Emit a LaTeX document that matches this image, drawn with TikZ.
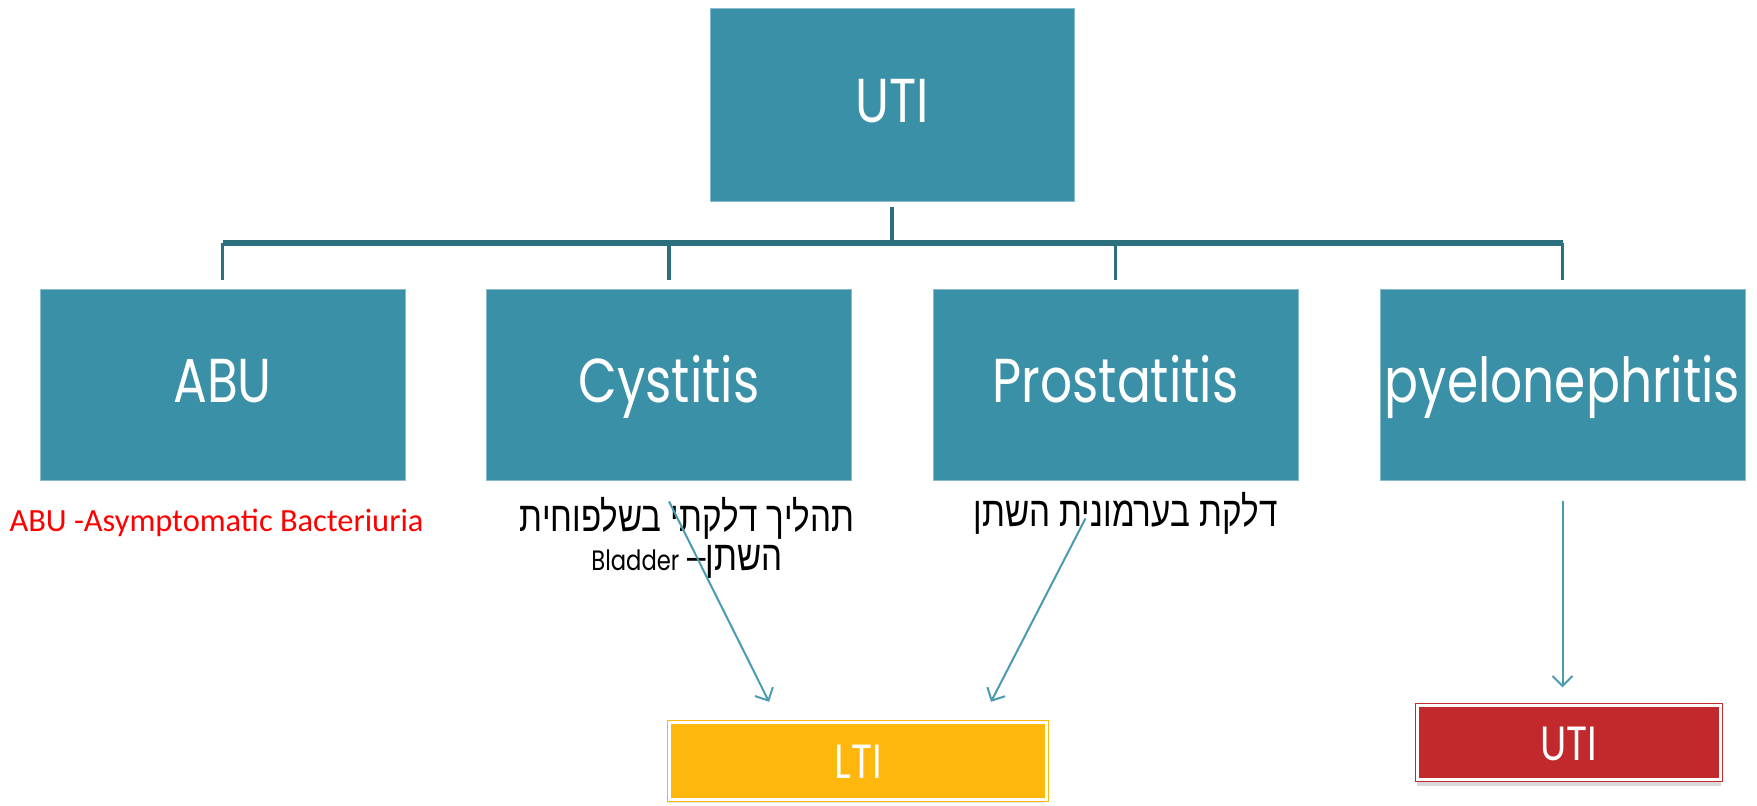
\documentclass[tikz,border=0pt]{standalone}
\usepackage{fontspec}
\setmainfont{Poppins}
\newfontfamily\boxfont[FakeStretch=0.81]{Poppins}
\newfontfamily\hebfont[Script=Hebrew,FakeStretch=0.79]{Liberation Sans}
\newfontfamily\notefont{Carlito}
\usetikzlibrary{arrows.meta,shadows}
\TeXXeTstate=1

\definecolor{boxteal}{RGB}{58,144,167}
\definecolor{linkteal}{RGB}{44,112,128}
\definecolor{arrowteal}{RGB}{74,155,176}
\definecolor{ltiorange}{RGB}{255,183,13}
\definecolor{utired}{RGB}{193,41,45}

\tikzset{
  link/.style={draw=linkteal,line width=1.7pt},
  busbar/.style={draw=linkteal,line width=3.2pt},
  pointer/.style={draw=arrowteal,line width=1pt,-{Straight Barb[length=5pt,width=10pt,line width=1pt]}},
  endbox/.style={rectangle,draw=#1,fill=#1,double=white,double distance=1.2pt,line width=0.6pt,
    text=white,font=\boxfont\fontsize{24}{24}\selectfont,inner sep=0pt,
    text height=17.6pt,text depth=0pt},
  hebnote/.style={text=black,font=\hebfont\fontsize{21}{19.5}\selectfont,inner sep=0pt}
}

\begin{document}
\begin{tikzpicture}[x=0.5pt,y=-0.5pt]
  \useasboundingbox (0,0) rectangle (1757,806);

  % the four kinds of infection under the root
  \begin{scope}[every node/.style={rectangle,draw=boxteal!60!white,line width=0.4pt,fill=boxteal,
      text=white,font=\boxfont\fontsize{31}{31}\selectfont,inner sep=0pt,
      text height=18.5pt,text depth=0pt,minimum width=182.5pt,minimum height=95.5pt}]
    \node (uti) at (892,104.5) [minimum width=182pt,minimum height=96.5pt] {UTI};
    \node (abu) at (222.5,384.5) {ABU};
    \node (cys) at (669,384.5) {Cystitis};
    \node (prost) at (1115.5,384.5) {Prostatitis};
    \node (pyelo) at (1562.5,384.5) {pyelonephritis};
  \end{scope}

  % notes below the boxes
  \node (abunote) at (216.5,523) [text=red,font=\notefont\fontsize{16.2}{16.2}\selectfont,inner sep=0pt]
    {ABU -Asymptomatic Bacteriuria};
  \node (cysnote) at (687,537.5) [hebnote,align=center]
    {\beginR תהליך דלקתי בשלפוחית\endR\\
     \beginR השתן\kern0pt–\hspace{4pt}{\boxfont\fontsize{14}{14}\selectfont Bladder}\endR};
  \node (prostnote) at (1125.5,513) [hebnote] {\beginR דלקת בערמונית השתן\endR};

  % lower and upper tract
  \node (lti) at (858,761) [endbox=ltiorange,minimum width=188.6pt,minimum height=38.6pt,
    drop shadow={shadow xshift=-1pt,shadow yshift=-1.5pt,opacity=0.2}] {LTI};
  \node (upper) at (1569,742.5) [endbox=utired,minimum width=151.6pt,minimum height=37.1pt,
    drop shadow={shadow xshift=0pt,shadow yshift=-3pt,opacity=0.3}] {UTI};

  % tree connectors
  \coordinate (bar) at (892,243);
  \draw[link] ([yshift=-3pt]uti.south) -- (bar);
  \draw[busbar] (abu.north |- bar) -- (pyelo.north |- bar);
  \foreach \c in {abu,cys,prost,pyelo}
    \draw[link] (bar -| \c.north) -- ([yshift=4.5pt]\c.north);

  % arrows to the tract boxes
  \draw[pointer] ([yshift=-10.5pt]cys.south) -- ([xshift=-44.5pt,yshift=10pt]lti.north);
  \draw[pointer] ([xshift=-15pt,yshift=-19pt]prost.south) -- ([xshift=66.5pt,yshift=10pt]lti.north);
  \draw[pointer,shorten <=10.5pt,shorten >=8.7pt] (pyelo.south) -- (pyelo.south |- upper.north);
\end{tikzpicture}
\end{document}
